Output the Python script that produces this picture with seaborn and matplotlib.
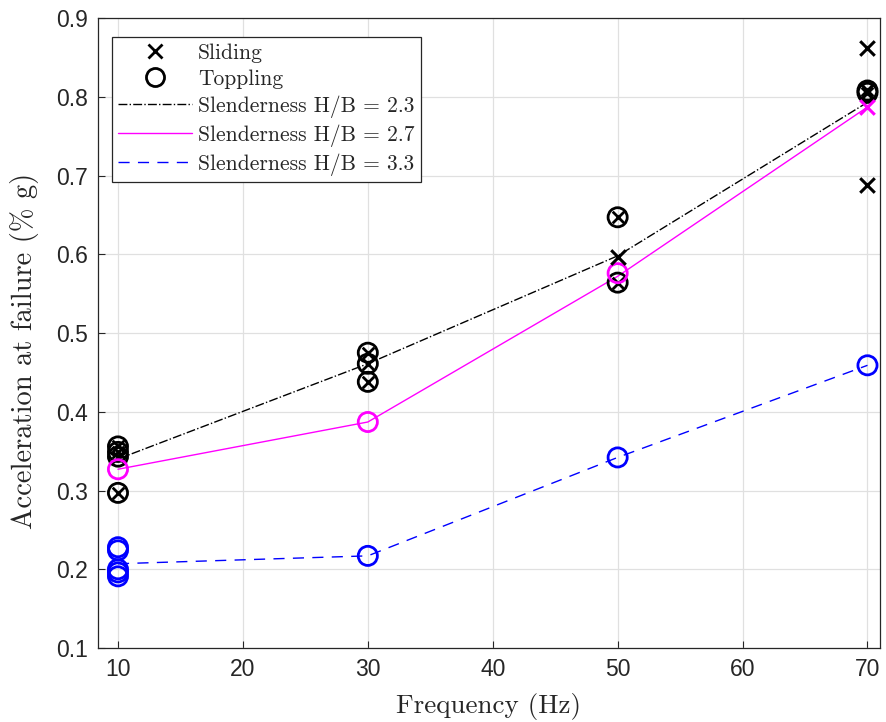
import numpy as np
import pandas as pd
import matplotlib
matplotlib.use("Agg")
import matplotlib.pyplot as plt
import seaborn as sns
from matplotlib.lines import Line2D

# mean curves per slenderness
freq = [10, 30, 50, 70]
line_23 = [0.340, 0.461, 0.598, 0.793]
line_27 = [0.327, 0.387, 0.572, 0.787]
line_33 = [0.207, 0.217, 0.342, 0.459]

# toppling tests (circle)
topple_23_x = [10, 10, 10, 10, 30, 30, 30, 50, 50, 70, 70]
topple_23_y = [0.356, 0.349, 0.343, 0.297, 0.475, 0.461, 0.438, 0.647, 0.564, 0.808, 0.805]
topple_27_x = [10, 30, 50]
topple_27_y = [0.327, 0.387, 0.576]
topple_33_x = [10, 10, 10, 10, 10, 30, 50, 70]
topple_33_y = [0.228, 0.224, 0.200, 0.196, 0.191, 0.217, 0.342, 0.459]

# sliding tests (cross)
slide_23_x = [50, 70, 70]
slide_23_y = [0.597, 0.862, 0.688]
slide_27_x = [70]
slide_27_y = [0.787]

black = "k"
pink = "#FF00FF"
blue = "#0000FF"

sns.set_style("whitegrid")
plt.rcParams["font.family"] = ["Liberation Sans", "DejaVu Sans"]

fig = plt.figure(figsize=(8.86, 7.22), dpi=100)
ax = fig.add_axes([0.1106, 0.1025, 0.8826, 0.8725])

sns.lineplot(x=freq, y=line_23, color=black, linestyle="-.", linewidth=1.0, ax=ax)
sns.lineplot(x=freq, y=line_27, color=pink, linestyle="-", linewidth=1.0, ax=ax)
sns.lineplot(x=freq, y=line_33, color=blue, linestyle=(0, (8, 6)), linewidth=1.0, ax=ax)

circ = dict(marker="o", s=190, facecolor="none", linewidth=2.0, zorder=3)
sns.scatterplot(x=topple_23_x, y=topple_23_y, edgecolor=black, ax=ax, **circ)
sns.scatterplot(x=topple_23_x, y=topple_23_y, marker="x", s=70, color=black,
                linewidth=2.0, zorder=3, ax=ax)
sns.scatterplot(x=topple_27_x, y=topple_27_y, edgecolor=pink, ax=ax, **circ)
sns.scatterplot(x=topple_33_x, y=topple_33_y, edgecolor=blue, ax=ax, **circ)

sns.scatterplot(x=slide_23_x, y=slide_23_y, marker="x", s=110, color=black,
                linewidth=2.2, zorder=4, ax=ax)
sns.scatterplot(x=slide_27_x, y=slide_27_y, marker="x", s=110, color=pink,
                linewidth=2.2, zorder=4, ax=ax)

ax.set_xlim(8.4, 71)
ax.set_ylim(0.1, 0.9)
ax.set_xticks([10, 20, 30, 40, 50, 60, 70])
ax.set_yticks(np.arange(0.1, 0.91, 0.1))
ax.set_yticklabels([f"{v:.1f}" for v in np.arange(0.1, 0.91, 0.1)])
ax.grid(True, color="#E0E0E0", linewidth=0.9)
for sp in ax.spines.values():
    sp.set_color("#262626")
    sp.set_linewidth(0.9)
ax.tick_params(axis="both", direction="in", length=5, labelsize=16.5,
               colors="#262626", pad=7, left=True, bottom=True)

ax.set_xlabel("Frequency (Hz)", fontfamily="cmr10", fontsize=19.5, color="#262626",
              labelpad=9)
ax.set_ylabel("Acceleration at failure (% g)", fontfamily="cmr10", fontsize=20.5,
              color="#262626")
ax.yaxis.set_label_coords(-0.075, 0.471)

handles = [
    Line2D([], [], color=black, marker="x", linestyle="none", markersize=10, markeredgewidth=2),
    Line2D([], [], color=black, marker="o", markerfacecolor="none", linestyle="none",
           markersize=13, markeredgewidth=2),
    Line2D([], [], color=black, linestyle="-.", linewidth=1.0),
    Line2D([], [], color=pink, linestyle="-", linewidth=1.0),
    Line2D([], [], color=blue, linestyle=(0, (8, 6)), linewidth=1.0),
]
labels = ["Sliding", "Toppling", "Slenderness H/B = 2.3",
          "Slenderness H/B = 2.7", "Slenderness H/B = 3.3"]
leg = ax.legend(handles, labels, loc="upper left", bbox_to_anchor=(0.0179, 0.970),
                borderaxespad=0, prop={"family": "cmr10", "size": 15.5}, frameon=True,
                fancybox=False, edgecolor="#262626", framealpha=1, handlelength=3.4,
                labelspacing=0.3, borderpad=0.3, handletextpad=0.3)
leg.get_frame().set_linewidth(0.9)

fig.savefig("out.png", dpi=100)
